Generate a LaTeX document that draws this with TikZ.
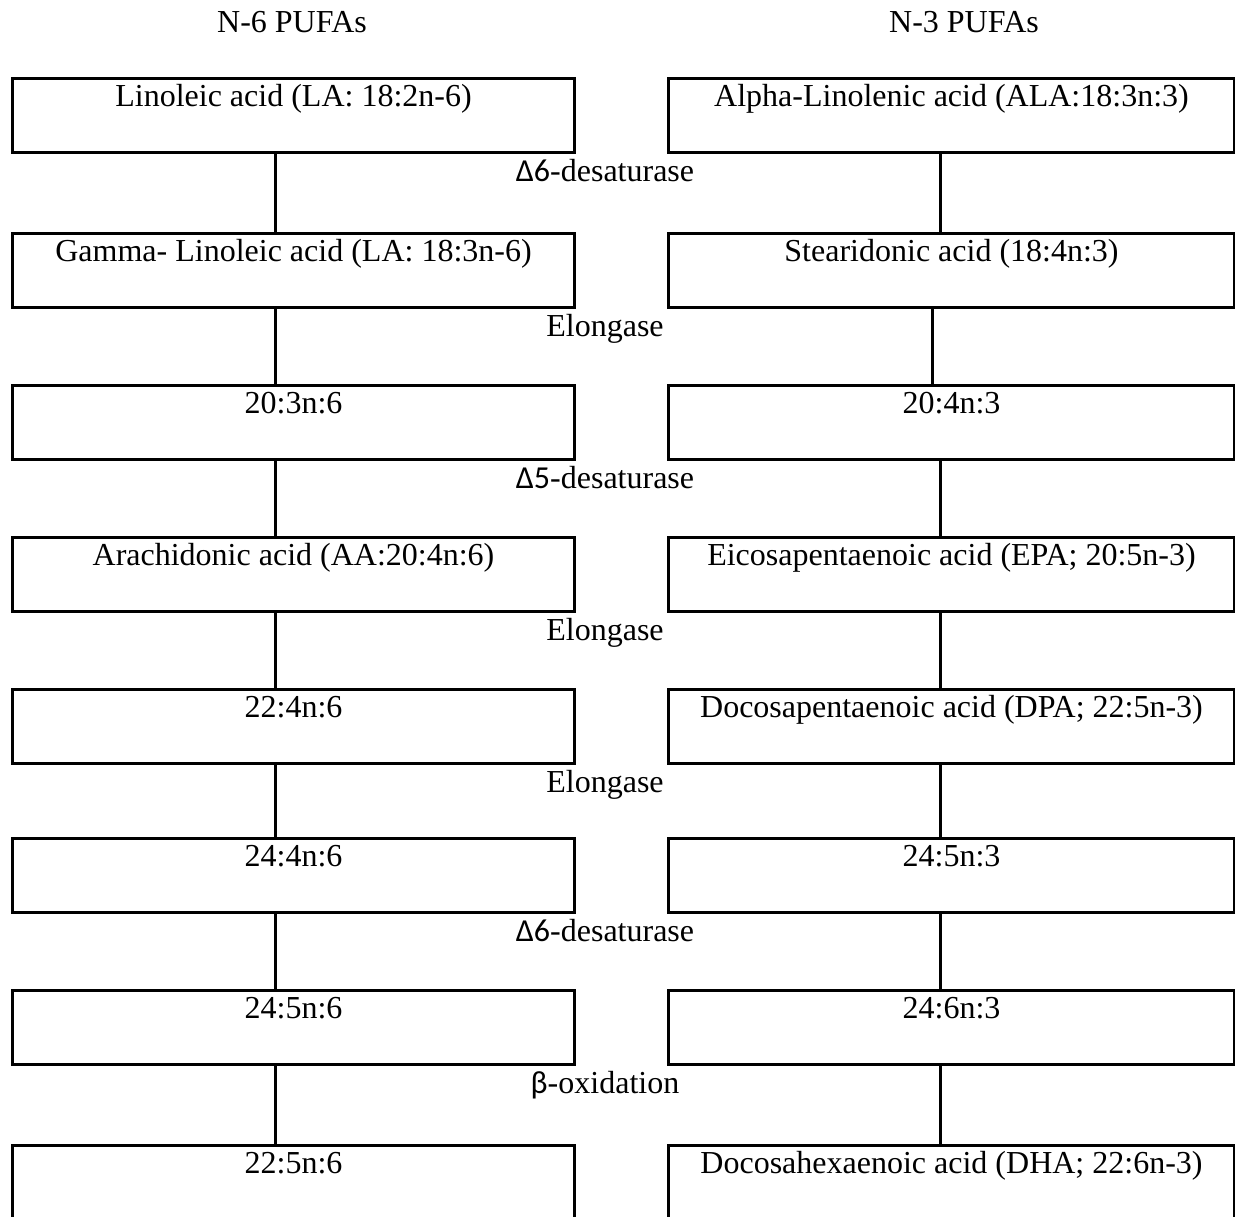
\documentclass[tikz,border=0pt]{standalone}
\usepackage{fontspec}
\setmainfont{Liberation Serif}
\newfontfamily\calib{Carlito}
\begin{document}
\begin{tikzpicture}[x=0.5pt,y=-0.5pt,line width=1.5pt,
  box/.style={draw,rectangle,inner xsep=0pt,inner ysep=0pt,text height=14pt,text depth=23pt,anchor=north west,font=\fontsize{16}{19}\selectfont},
  lbox/.style={box,minimum width=281pt},
  rbox/.style={box,minimum width=283pt},
  enz/.style={anchor=base,inner sep=0pt,font=\fontsize{16}{19}\selectfont},
  head/.style={anchor=base,inner sep=0pt,font=\fontsize{16}{19}\selectfont}]
\clip (0,0) rectangle (1235,1216);
\fill[white] (0,0) rectangle (1235,1216);
\coordinate (xl) at (275,0);
\coordinate (xr) at (940,0);
\coordinate (xrb) at (932,0);
% headers
\node[head] (h6) at (292,32) {N-6 PUFAs};
\node[head] (h3) at (964,32) {N-3 PUFAs};
% left column
\node[lbox] (l1) at (11,77)   {Linoleic acid (LA: 18:2n-6)};
\node[lbox] (l2) at (11,232)  {Gamma- Linoleic acid (LA: 18:3n-6)};
\node[lbox] (l3) at (11,384)  {20:3n:6};
\node[lbox] (l4) at (11,536)  {Arachidonic acid (AA:20:4n:6)};
\node[lbox] (l5) at (11,688)  {22:4n:6};
\node[lbox] (l6) at (11,837)  {24:4n:6};
\node[lbox] (l7) at (11,989)  {24:5n:6};
\node[lbox,text depth=29pt] (l8) at (11,1144) {22:5n:6};
% right column
\node[rbox] (r1) at (667,77)   {Alpha-Linolenic acid (ALA:18:3n:3)};
\node[rbox] (r2) at (667,232)  {Stearidonic acid (18:4n:3)};
\node[rbox] (r3) at (667,384)  {20:4n:3};
\node[rbox] (r4) at (667,536)  {Eicosapentaenoic acid (EPA; 20:5n-3)};
\node[rbox] (r5) at (667,688)  {Docosapentaenoic acid (DPA; 22:5n-3)};
\node[rbox] (r6) at (667,837)  {24:5n:3};
\node[rbox] (r7) at (667,989)  {24:6n:3};
\node[rbox,text depth=29pt] (r8) at (667,1144) {Docosahexaenoic acid (DHA; 22:6n-3)};
% enzyme labels
\node[enz] (e1) at (605,181)  {{\calib Δ6}-desaturase};
\node[enz] (e2) at (605,336)  {Elongase};
\node[enz] (e3) at (605,488)  {{\calib Δ5}-desaturase};
\node[enz] (e4) at (605,640)  {Elongase};
\node[enz] (e5) at (605,792)  {Elongase};
\node[enz] (e6) at (605,941)  {{\calib Δ6}-desaturase};
\node[enz] (e7) at (605,1093) {{\calib β}-oxidation};
% connectors
\foreach \a/\b in {l1/l2,l2/l3,l3/l4,l4/l5,l5/l6,l6/l7,l7/l8}
  \draw (\a.south -| xl) -- (\b.north -| xl);
\foreach \a/\b in {r1/r2,r3/r4,r4/r5,r5/r6,r6/r7,r7/r8}
  \draw (\a.south -| xr) -- (\b.north -| xr);
\draw (r2.south -| xrb) -- (r3.north -| xrb);
\end{tikzpicture}
\end{document}
